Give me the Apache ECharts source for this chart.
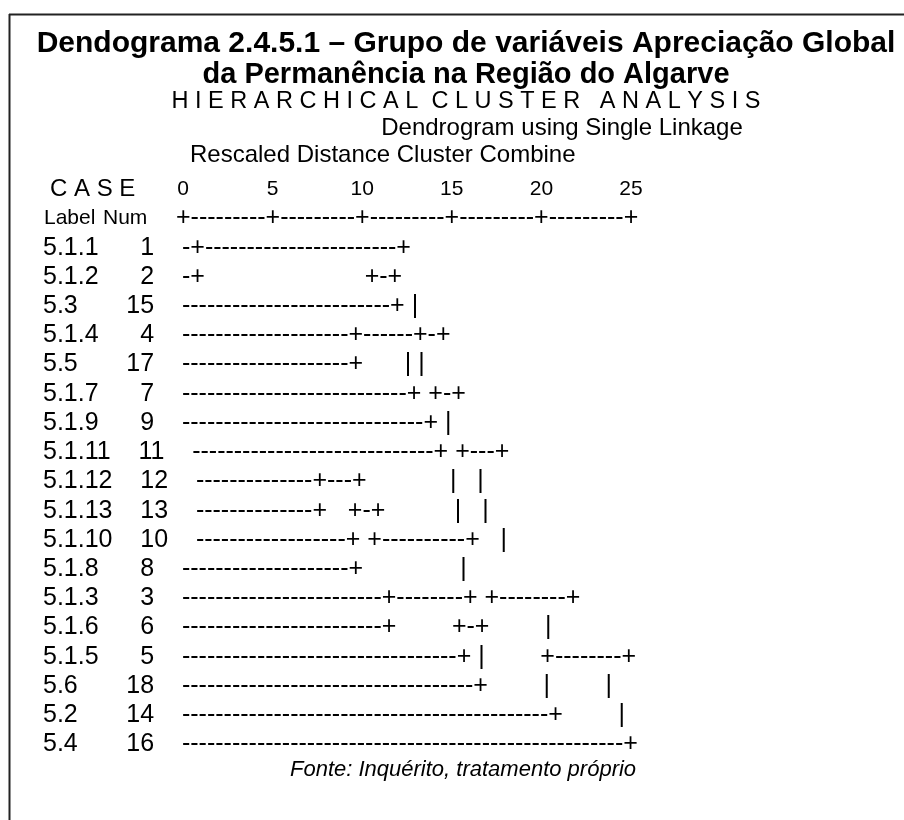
<!DOCTYPE html>
<html>
<head>
<meta charset="utf-8">
<script src="https://cdn.jsdelivr.net/npm/echarts@6/dist/echarts.min.js"></script>
<style>
  html, body { margin: 0; padding: 0; background: #fff; }
  #chart { width: 904px; height: 820px; }
</style>
</head>
<body>
<div id="chart"></div>
<script>
// casos na ordem em que aparecem no dendrograma
const caseLabels = ['5.1.1', '5.1.2', '5.3', '5.1.4', '5.5', '5.1.7', '5.1.9', '5.1.11', '5.1.12',
    '5.1.13', '5.1.10', '5.1.8', '5.1.3', '5.1.6', '5.1.5', '5.6', '5.2', '5.4'];
const caseNums = [1, 2, 15, 4, 17, 7, 9, 11, 12, 13, 10, 8, 3, 6, 5, 18, 14, 16];

// escala "Rescaled Distance Cluster Combine"
const distanceTicks = [0, 5, 10, 15, 20, 25];

// traços do dendrograma (saída de texto do SPSS)
const d = n => '-'.repeat(n);
const s = n => ' '.repeat(n);
const treeLines = [
    '-+' + d(23) + '+',
    '-+' + s(23) + '+-+',
    d(25) + '+ |',
    d(20) + '+' + d(6) + '+-+',
    d(20) + '+' + s(6) + '| |',
    d(27) + '+ +-+',
    d(29) + '+ |',
    d(29) + '+ +---+',
    d(14) + '+---+' + s(12) + '|   |',
    d(14) + '+   +-+' + s(10) + '|   |',
    d(18) + '+ +' + d(10) + '+   |',
    d(20) + '+' + s(14) + '|',
    d(24) + '+' + d(8) + '+ +' + d(8) + '+',
    d(24) + '+' + s(8) + '+-+' + s(8) + '|',
    d(33) + '+ |' + s(8) + '+' + d(8) + '+',
    d(35) + '+' + s(8) + '|' + s(8) + '|',
    d(44) + '+' + s(8) + '|',
    d(53) + '+'
];
const rulerLine = '+---------+---------+---------+---------+---------+';

const FONT = '"Liberation Sans", Arial, Helvetica, sans-serif';
const GRID_LEFT = 183;
const LABEL_X = 43;

function rowText(i) {
    return caseLabels[i].padEnd(9, ' ') + String(caseNums[i]).padStart(3, ' ') + '    ' + treeLines[i];
}

const chart = echarts.init(document.getElementById('chart'));

const option = {
    backgroundColor: '#fff',
    animation: false,
    grid: { left: GRID_LEFT, right: 273, top: 233, bottom: 61 },
    xAxis: {
        type: 'value',
        position: 'top',
        min: distanceTicks[0],
        max: distanceTicks[distanceTicks.length - 1],
        interval: 5,
        axisLine: { show: false },
        axisTick: { show: false },
        splitLine: { show: false },
        axisLabel: {
            margin: 33,
            color: '#000',
            fontSize: 21,
            fontFamily: FONT,
            formatter: v => distanceTicks.indexOf(v) >= 0 ? String(v) : ''
        }
    },
    yAxis: {
        type: 'category',
        inverse: true,
        data: caseLabels,
        show: false
    },
    series: [{
        type: 'custom',
        coordinateSystem: 'cartesian2d',
        clip: false,
        data: caseLabels.map((l, i) => [0, i]),
        renderItem: function (params, api) {
            const i = api.value(1);
            const p = api.coord([0, i]);
            return {
                type: 'text',
                x: p[0] - (GRID_LEFT - LABEL_X),
                y: p[1],
                style: {
                    text: rowText(i),
                    fill: '#000',
                    font: '25px ' + FONT,
                    align: 'left',
                    verticalAlign: 'middle'
                }
            };
        }
    }],
    graphic: [
        // moldura
        { type: 'line', shape: { x1: 9.5, y1: 14, x2: 9.5, y2: 820 }, style: { stroke: '#222', lineWidth: 2 } },
        { type: 'line', shape: { x1: 9, y1: 14.5, x2: 904, y2: 14.5 }, style: { stroke: '#222', lineWidth: 2 } },
        // títulos
        { type: 'text', x: 466, y: 44, style: { text: 'Dendograma 2.4.5.1 – Grupo de variáveis Apreciação Global', font: 'bold 30px ' + FONT, fill: '#000', align: 'center', verticalAlign: 'middle' } },
        { type: 'text', x: 466, y: 75, style: { text: 'da Permanência na Região do Algarve', font: 'bold 29px ' + FONT, fill: '#000', align: 'center', verticalAlign: 'middle' } },
        { type: 'text', x: 466, y: 102, style: { text: 'H I E R A R C H I C A L  C L U S T E R   A N A L Y S I S', font: '23.5px ' + FONT, fill: '#000', align: 'center', verticalAlign: 'middle' } },
        { type: 'text', x: 562, y: 128, style: { text: 'Dendrogram using Single Linkage', font: '24px ' + FONT, fill: '#000', align: 'center', verticalAlign: 'middle' } },
        { type: 'text', x: 190, y: 155, style: { text: 'Rescaled Distance Cluster Combine', font: '24px ' + FONT, fill: '#000', align: 'left', verticalAlign: 'middle' } },
        // cabeçalho das colunas
        { type: 'text', x: 50, y: 189, style: { text: 'C A S E', font: '24px ' + FONT, fill: '#000', align: 'left', verticalAlign: 'middle' } },
        { type: 'text', x: 44, y: 218, style: { text: 'Label', font: '21px ' + FONT, fill: '#000', align: 'left', verticalAlign: 'middle' } },
        { type: 'text', x: 103, y: 218, style: { text: 'Num', font: '21px ' + FONT, fill: '#000', align: 'left', verticalAlign: 'middle' } },
        { type: 'text', x: 176, y: 218, style: { text: rulerLine, font: '25px ' + FONT, fill: '#000', align: 'left', verticalAlign: 'middle' } },
        // fonte
        { type: 'text', x: 290, y: 770, style: { text: 'Fonte: Inquérito, tratamento próprio', font: 'italic 22px ' + FONT, fill: '#000', align: 'left', verticalAlign: 'middle' } }
    ]
};

chart.setOption(option);
</script>
</body>
</html>
